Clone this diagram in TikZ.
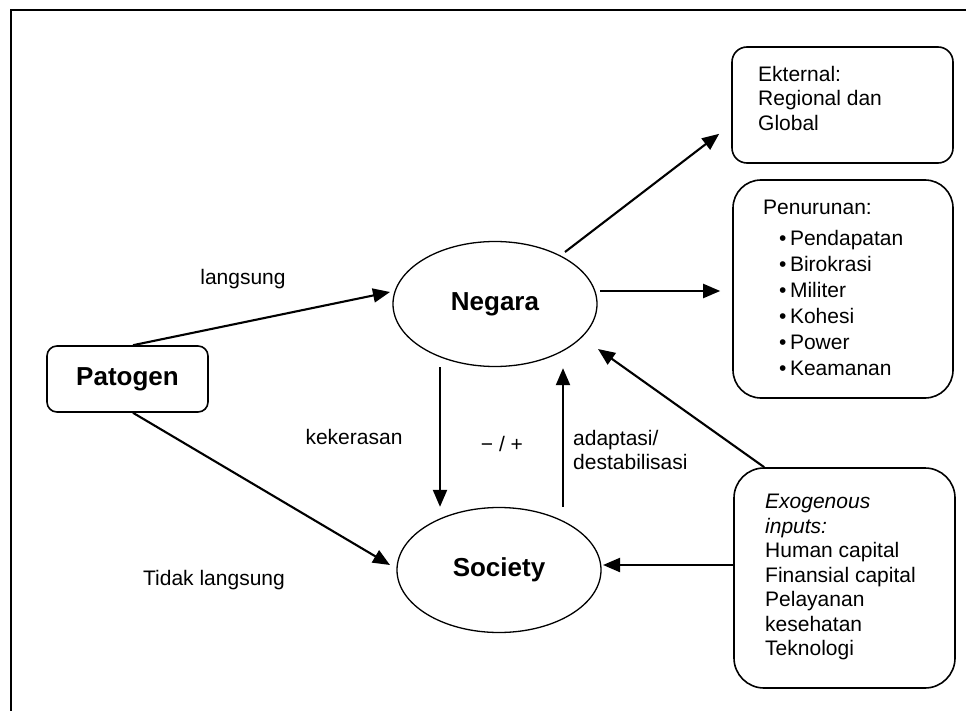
\documentclass[tikz,border=0pt]{standalone}
\usepackage{fontspec}
\setmainfont{Liberation Sans}
\usetikzlibrary{shapes.geometric,arrows.meta,calc}
\begin{document}
\begin{tikzpicture}[x=1pt,y=-1pt,
  box/.style={draw, line width=1.6pt, inner sep=0, minimum width=#1},
  ell/.style={draw, ellipse, line width=1.3pt, minimum width=204, minimum height=125, inner sep=0, font=\fontsize{26}{30}\selectfont\bfseries},
  arr/.style={line width=2.1pt, -{Triangle[length=17pt,width=14pt]}},
  lbl/.style={inner sep=0, font=\fontsize{21}{24.5}\selectfont},
  txt/.style={anchor=north west, inner sep=0, align=left, font=\fontsize{21}{24.5}\selectfont}]
\useasboundingbox (0,0) rectangle (966,711);
\draw[line width=1.5pt] (11,720) -- (11,10) -- (975,10);

% boxes
\node[box=161, minimum height=66, rounded corners=10pt, font=\fontsize{26}{30}\selectfont\bfseries] (pat) at (127.5,379) {Patogen};
\node[box=221, minimum height=116, rounded corners=15pt] (ext) at (842.5,105) {};
\node[box=220, minimum height=218, rounded corners=28pt] (pen) at (843,289) {};
\node[box=221, minimum height=220, rounded corners=30pt] (exo) at (844.5,578) {};

% box texts
\node[txt] (extt) at (758,66) {Ekternal:\\Regional dan\\Global};
\node[txt] (pent) at (763,200) {Penurunan:\\[6pt]
\hspace{16pt}•\,Pendapatan\\[1.5pt]
\hspace{16pt}•\,Birokrasi\\[1.5pt]
\hspace{16pt}•\,Militer\\[1.5pt]
\hspace{16pt}•\,Kohesi\\[1.5pt]
\hspace{16pt}•\,Power\\[1.5pt]
\hspace{16pt}•\,Keamanan};
\node[txt] (exot) at (765,494) {\itshape Exogenous\\\itshape inputs:\\Human capital\\Finansial capital\\Pelayanan\\kesehatan\\Teknologi};

% ellipses
\node[ell] (neg) at (495,304) {Negara};
\node[ell] (soc) at (499,570) {Society};

% labels
\node[lbl] (l1) at (243,279) {langsung};
\node[lbl] (l2) at (214,580) {Tidak langsung};
\node[lbl] (l3) at (354,437) {kekerasan};
\node[lbl] (l4) at (502,444) {− / +};
\node[txt] (l5) at (573,430) {adaptasi/\\destabilisasi};

% connectors
\draw[arr] ($(pat.north)+(5.5,0)$) -- ($(neg.center)+(-105,-12)$);
\draw[arr] ($(pat.south)+(5.5,0)$) -- ($(soc.center)+(-109,-5)$);
\draw[arr] ($(neg.south)+(-55,0)$) -- ($(soc.north)+(-59,0)$);
\draw[arr] ($(soc.north)+(64,0)$) -- ($(neg.south)+(68,1)$);
\draw[arr] ($(neg.center)+(105,-13)$) -- ($(pen.west)+(-12,2)$);
\draw[arr] ($(neg.center)+(70,-52)$) -- ($(ext.south west)+(-12,-30)$);
\draw[arr] ($(exo.north west)+(31,0)$) -- ($(neg.center)+(103,45)$);
\draw[arr] ($(exo.west)+(0,-13)$) -- ($(soc.center)+(104,-5)$);
\end{tikzpicture}
\end{document}
